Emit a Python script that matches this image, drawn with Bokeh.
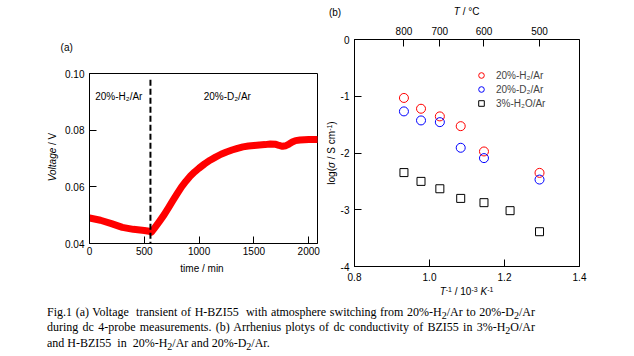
from bokeh.plotting import figure
from bokeh.layouts import row, column
from bokeh.models import (Range1d, LinearAxis, FixedTicker, CustomJSTickFormatter,
                          Label, Legend, Div)
from bokeh.embed import file_html
from bokeh.resources import INLINE

# ---------------- data: (a) voltage transient ----------------
time_min = [0, 100, 200, 300, 400, 500, 545, 565, 600, 640, 680, 720, 760, 800, 840,
            880, 920, 960, 1000, 1050, 1100, 1150, 1200, 1250, 1300, 1350, 1400, 1450,
            1500, 1550, 1600, 1650, 1700, 1730, 1760, 1790, 1820, 1850, 1880, 1920,
            1960, 2000, 2040, 2070]
voltage_V = [0.0490, 0.0482, 0.0470, 0.0457, 0.0450, 0.0446, 0.0443, 0.0440, 0.0458,
             0.0479, 0.0501, 0.0526, 0.0551, 0.0576, 0.0600, 0.0620, 0.0638, 0.0653,
             0.0666, 0.0681, 0.0694, 0.0705, 0.0715, 0.0723, 0.0730, 0.0736, 0.0741,
             0.0744, 0.0746, 0.0748, 0.0749, 0.0751, 0.0750, 0.0746, 0.0743, 0.0745,
             0.0751, 0.0758, 0.0763, 0.0765, 0.0766, 0.0767, 0.0767, 0.0767]
t_switch = 556
dash_top = 0.0978
a_xticks = [0, 500, 1000, 1500, 2000]
a_yticks = [0.04, 0.06, 0.08, 0.10]
label_H2_a = "20%-H₂/Ar"
label_D2_a = "20%-D₂/Ar"

# ---------------- data: (b) Arrhenius plot ----------------
T_gas = [800, 750, 700, 650, 600, 500]          # deg C
log_sigma_H2 = [-1.03, -1.22, -1.355, -1.527, -1.973, -2.35]
log_sigma_D2 = [-1.267, -1.426, -1.456, -1.908, -2.09, -2.468]
T_wet = [800, 750, 700, 650, 600, 550, 500]     # deg C
log_sigma_H2O = [-2.345, -2.50, -2.63, -2.80, -2.875, -3.016, -3.387]
b_xticks = [0.8, 1.0, 1.2, 1.4]
b_yticks = [0, -1, -2, -3, -4]
top_T_ticks = [800, 700, 600, 500]
legend_names = ["20%-H₂/Ar", "20%-D₂/Ar", "3%-H₂O/Ar"]

caption_lines = [
    "Fig.1 (a) Voltage&nbsp; transient of H-BZI55&nbsp; with atmosphere switching from 20%-H<sub>2</sub>/Ar to 20%-D<sub>2</sub>/Ar",
    "during dc 4-probe measurements. (b) Arrhenius plotys of dc conductivity of BZI55 in 3%-H<sub>2</sub>O/Ar",
    "and H-BZI55&nbsp; in&nbsp; 20%-H<sub>2</sub>/Ar and 20%-D<sub>2</sub>/Ar.",
]

FONT = "Liberation Sans"

def inv_T(tc):
    return [1000.0 / (t + 273.15) for t in tc]

def style_axis(ax, standoff):
    ax.axis_line_color = "black"
    ax.axis_line_width = 1
    ax.major_tick_in = 7
    ax.major_tick_out = 0
    ax.major_tick_line_color = "black"
    ax.minor_tick_line_color = None
    ax.major_label_text_font = FONT
    ax.major_label_text_font_size = "10px"
    ax.major_label_text_color = "black"
    ax.major_label_standoff = standoff

def base_fig(**kw):
    p = figure(output_backend="svg", toolbar_location=None, frame_align=False, **kw)
    p.xgrid.visible = False
    p.ygrid.visible = False
    p.outline_line_color = "black"
    p.outline_line_alpha = 1
    p.outline_line_width = 1
    p.background_fill_color = "white"
    p.border_fill_color = "white"
    return p

# ---------------- figure (a) ----------------
pa = base_fig(width=322, height=300, x_range=Range1d(0, 2080), y_range=Range1d(0.04, 0.10),
              min_border_left=89, min_border_right=5, min_border_top=73, min_border_bottom=57)
pa.xaxis[0].ticker = FixedTicker(ticks=a_xticks)
pa.xaxis[0].formatter = CustomJSTickFormatter(code="return tick.toFixed(0)")
pa.yaxis[0].ticker = FixedTicker(ticks=a_yticks)
pa.yaxis[0].formatter = CustomJSTickFormatter(code="return tick.toFixed(2)")
style_axis(pa.xaxis[0], 3)
style_axis(pa.yaxis[0], 5)

pa.line(time_min, voltage_V, line_color="#ff0000", line_width=7,
        line_cap="round", line_join="round")
pa.segment(x0=t_switch, y0=dash_top, x1=t_switch, y1=a_yticks[0],
           line_color="black", line_width=2, line_dash="6 3")
pa.add_layout(Label(x=52, y=0.0918, text=label_H2_a, text_font=FONT, text_font_size="10px",
                    text_baseline="middle", text_align="left", text_color="black"))
pa.add_layout(Label(x=1257, y=0.0918, text=label_D2_a, text_font=FONT, text_font_size="10px",
                    text_baseline="middle", text_align="center", text_color="black"))

# ---------------- figure (b) ----------------
pb = base_fig(width=312, height=300, x_range=Range1d(0.8, 1.4), y_range=Range1d(-4, 0),
              min_border_left=32, min_border_right=55, min_border_top=39, min_border_bottom=34)
pb.xaxis[0].ticker = FixedTicker(ticks=b_xticks)
pb.xaxis[0].formatter = CustomJSTickFormatter(code="return tick.toFixed(1)")
pb.yaxis[0].ticker = FixedTicker(ticks=b_yticks)
pb.yaxis[0].formatter = CustomJSTickFormatter(code="return tick.toFixed(0)")
style_axis(pb.xaxis[0], 6)
style_axis(pb.yaxis[0], 5)
top = LinearAxis(ticker=FixedTicker(ticks=inv_T(top_T_ticks)),
                 formatter=CustomJSTickFormatter(code="return Math.round(1000/tick - 273.15).toFixed(0)"))
style_axis(top, 5)
pb.add_layout(top, "above")

r1 = pb.scatter(inv_T(T_gas), log_sigma_H2, marker="circle", size=9, fill_color=None,
                line_color="#ff0000", line_width=1)
r2 = pb.scatter(inv_T(T_gas), log_sigma_D2, marker="circle", size=9, fill_color=None,
                line_color="#0000ff", line_width=1)
r3 = pb.scatter(inv_T(T_wet), log_sigma_H2O, marker="square", size=8, fill_color=None,
                line_color="black", line_width=1)
leg = Legend(items=[(legend_names[0], [r1]), (legend_names[1], [r2]), (legend_names[2], [r3])],
             location=(120, 156), glyph_width=14, glyph_height=14, label_height=14,
             label_standoff=8, spacing=0, padding=0, margin=0,
             border_line_color=None, background_fill_alpha=0,
             label_text_font=FONT, label_text_font_size="10px")
pb.add_layout(leg)

# ---------------- texts outside the plot frames (HTML overlay) ----------------
SUP = '<span style="position:relative;top:-0.45em;font-size:7px;">{}</span>'

def span(html, cx, cy, rotate=False):
    tr = "translate(-50%,-50%)" + (" rotate(-90deg)" if rotate else "")
    return (f'<span style="position:absolute;left:{cx}px;top:{cy}px;transform:{tr};'
            f'white-space:nowrap;line-height:1;">{html}</span>')

overlay_items = [
    span("(a)", 66.7, 48),
    span("<i>Voltage</i> / V", 53, 157, rotate=True),
    span("time / min", 202, 269),
    span("(b)", 335, 13),
    span("<i>T</i> / °C", 466.6, 12),
    span("<i>T</i>" + SUP.format("-1") + " / 10" + SUP.format("-3") + " <i>K</i>" + SUP.format("-1"),
         466.5, 292),
    span("log(<i>σ</i> / S cm" + SUP.format("-1") + ")", 332, 152.5, rotate=True),
]
overlay_html = ('<div style="position:relative;width:634px;height:356px;'
                f'font-family:\'{FONT}\', Arial, sans-serif;font-size:10px;color:black;">'
                + "".join(overlay_items) + "</div>")
overlay = Div(text=overlay_html, width=634, height=356, margin=(0, 0, 0, 0),
              styles={"position": "absolute", "left": "0px", "top": "0px",
                      "z-index": "10", "pointer-events": "none"})

# ---------------- caption ----------------
just = ("display:block;width:488px;height:15.5px;line-height:15.5px;overflow:visible;"
        "text-align:justify;text-align-last:justify;")
left = "display:block;height:15.5px;line-height:15.5px;white-space:nowrap;"
html = (f'<div style="{just}">{caption_lines[0]}</div>'
        f'<div style="{just}">{caption_lines[1]}</div>'
        f'<div style="{left}">{caption_lines[2]}</div>')
cap = Div(text=html, width=634, height=56, margin=(0, 0, 0, 0),
          styles={"font-family": "'Liberation Serif', 'Times New Roman', serif",
                  "font-size": "12px", "color": "black", "padding-left": "47px",
                  "padding-top": "4.5px", "box-sizing": "border-box"})

layout = column(row(pa, pb, spacing=0), cap, overlay, spacing=0)
open("out.html", "w").write(file_html(layout, INLINE))
